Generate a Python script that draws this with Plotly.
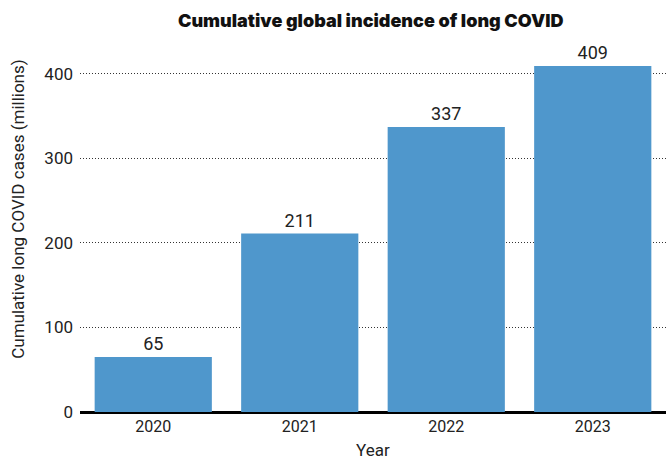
import plotly.graph_objects as go

years = ["2020", "2021", "2022", "2023"]
cases = [65, 211, 337, 409]

fig = go.Figure(go.Bar(
    x=years, y=cases,
    marker=dict(color="#4f97cc", line=dict(width=0)),
    text=[str(v) for v in cases],
    textposition="outside",
    textfont=dict(family="Roboto", size=18, color="#222"),
    cliponaxis=False,
))

fig.update_layout(
    width=668, height=459,
    margin=dict(l=80, r=2, t=50, b=47),
    paper_bgcolor="white", plot_bgcolor="white",
    bargap=0.2,
    title=dict(text="Cumulative global incidence of long COVID",
               x=0.555, xanchor="center", y=0.955, yanchor="middle",
               font=dict(family="Inter", size=18, color="#111", weight=900)),
    showlegend=False,
    font=dict(family="Roboto", color="#222"),
    annotations=[
        dict(text="Cumulative long COVID cases (millions)", textangle=-90,
             xref="paper", yref="paper", x=-0.106, y=0.561,
             xanchor="center", yanchor="middle", showarrow=False,
             font=dict(family="Roboto", size=17, color="#222")),
        dict(text="Year", xref="paper", yref="paper", x=0.5, y=-0.104,
             xanchor="center", yanchor="middle", showarrow=False,
             font=dict(family="Roboto", size=17, color="#222")),
    ],
)
fig.update_xaxes(
    tickfont=dict(size=16), showgrid=False, ticks="", showline=False,
    ticklabelstandoff=3, automargin=False,
)
fig.update_yaxes(
    range=[0, 428], tickvals=[0, 100, 200, 300, 400],
    tickfont=dict(size=17),
    showgrid=True, gridcolor="#333", griddash="1px,2px", gridwidth=1,
    zeroline=True, zerolinecolor="black", zerolinewidth=3,
    showline=False, ticks="", ticklabelstandoff=6, automargin=False,
)
fig.write_html("out.html")
